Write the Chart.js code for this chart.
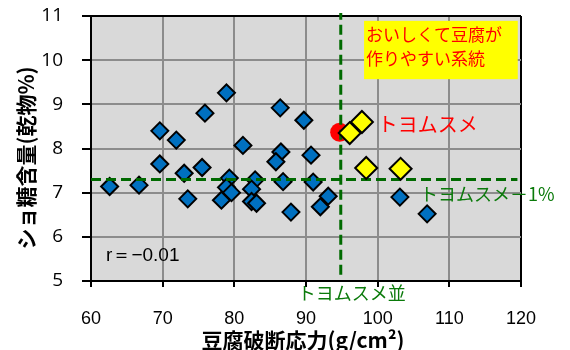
<!DOCTYPE html>
<html>
<head>
<meta charset="utf-8">
<script src="https://cdn.jsdelivr.net/npm/chart.js@4"></script>
<style>
html,body{margin:0;padding:0;background:#fff;}
canvas{display:block;}
</style>
</head>
<body>
<canvas id="c" width="570" height="350"></canvas>
<script>
// ---- data ----
const lineX = [62.6, 66.7, 69.6, 71.9, 69.6, 73.0, 73.5, 75.9, 78.9, 81.2, 75.5,
               79.3, 78.9, 79.6, 78.2, 82.9, 82.4, 82.4, 83.1, 86.8, 87.9, 86.5,
               85.8, 86.4, 89.7, 90.7, 91.0, 93.1, 92.0, 103.1, 106.9];
const lineY = [7.14, 7.17, 8.40, 8.19, 7.65, 7.44, 6.86, 8.80, 9.26, 8.07, 7.57,
               7.33, 7.12, 7.00, 6.83, 7.29, 7.08, 6.80, 6.76, 7.25, 6.56, 7.92,
               7.70, 8.92, 8.64, 7.85, 7.24, 6.92, 6.68, 6.90, 6.52];
const goodX = [96.1, 97.8, 98.4, 103.2];
const goodY = [8.35, 8.60, 7.56, 7.54];
const toyomusumeX = [94.7];
const toyomusumeY = [8.37];
const refX = 94.85;          // トヨムスメ並 (vertical reference)
const refY = 7.30;           // トヨムスメ−1% (horizontal reference)
const xTicks = [60, 70, 80, 90, 100, 110, 120];
const yTicks = [5, 6, 7, 8, 9, 10, 11];
const xTitle = '豆腐破断応力(g/cm²)';
const yTitle = 'ショ糖含量(乾物%)';
const boxText = ['おいしくて豆腐が', '作りやすい系統'];
const rText = 'r＝−0.01';

const pts = (xs, ys) => xs.map((x, i) => ({x: x, y: ys[i]}));

const GRID = '#8c8c8c';
const GREEN = '#006a00';
const JP = '"Noto Sans CJK JP", sans-serif';

const decor = {
  id: 'decor',
  beforeDraw(chart) {
    const a = chart.chartArea, ctx = chart.ctx;
    ctx.save();
    ctx.fillStyle = '#d9d9d9';
    ctx.fillRect(a.left, a.top, a.right - a.left, a.bottom - a.top);
    ctx.restore();
  },
  afterDraw(chart) {
    const ctx = chart.ctx, xs = chart.scales.x, ys = chart.scales.y;
    const a = chart.chartArea;
    ctx.save();
    // yellow note box
    const bx0 = xs.getPixelForValue(98.1), bx1 = xs.getPixelForValue(119.55);
    const by0 = ys.getPixelForValue(10.89), by1 = ys.getPixelForValue(9.57);
    ctx.fillStyle = '#ffff00';
    ctx.fillRect(bx0, by0, bx1 - bx0, by1 - by0);
    ctx.fillStyle = '#ff0000';
    ctx.font = '17px ' + JP;
    ctx.textBaseline = 'middle';
    ctx.textAlign = 'left';
    ctx.fillText(boxText[0], bx0 + 2, by0 + 14);
    ctx.fillText(boxText[1], bx0 + 2, by0 + 38);
    // トヨムスメ label
    ctx.font = '20px ' + JP;
    ctx.fillText('トヨムスメ', xs.getPixelForValue(toyomusumeX[0]) + 38, ys.getPixelForValue(toyomusumeY[0]) - 8);
    // green labels
    ctx.fillStyle = '#0a7a0a';
    ctx.font = '18px ' + JP;
    ctx.fillText('トヨムスメ－1%', xs.getPixelForValue(105.9), ys.getPixelForValue(refY) + 15);
    ctx.fillText('トヨムスメ並', xs.getPixelForValue(refX) - 43, a.bottom + 12);
    // r value
    ctx.fillStyle = '#000';
    ctx.font = '19px "Liberation Sans", Arial, sans-serif';
    ctx.fillText(rText, xs.getPixelForValue(62.1), ys.getPixelForValue(5.57));
    // axis titles
    ctx.font = 'bold 21px ' + JP;
    ctx.textAlign = 'center';
    ctx.fillText(xTitle, 303, 340);
    ctx.translate(26, 158);
    ctx.rotate(-Math.PI / 2);
    ctx.fillText(yTitle, 0, 0);
    ctx.restore();
  }
};

new Chart(document.getElementById('c'), {
  type: 'scatter',
  data: {
    datasets: [
      { data: pts(lineX, lineY), pointStyle: 'rectRot', pointRadius: 8.5,
        backgroundColor: '#0070c0', borderColor: '#000', borderWidth: 2, order: 5 },
      { data: pts(toyomusumeX, toyomusumeY), pointStyle: 'circle', pointRadius: 9.5,
        backgroundColor: '#ff0000', borderColor: '#ff0000', borderWidth: 0, order: 4 },
      { type: 'line', data: [{x: 60, y: refY}, {x: 119.5, y: refY}], showLine: true,
        pointRadius: 0, borderColor: GREEN, borderWidth: 3, borderDash: [10, 5], clip: false, order: 3 },
      { type: 'line', data: [{x: refX, y: 5.14}, {x: refX, y: 11.07}], showLine: true,
        pointRadius: 0, borderColor: GREEN, borderWidth: 3, borderDash: [10, 5], clip: false, order: 3 },
      { data: pts(goodX, goodY), pointStyle: 'rectRot', pointRadius: 11,
        backgroundColor: '#ffff00', borderColor: '#000', borderWidth: 2, order: 1 }
    ]
  },
  options: {
    responsive: false,
    animation: false,
    layout: { autoPadding: false, padding: { top: 16, right: 49, left: 0, bottom: 0 } },
    plugins: { legend: { display: false }, tooltip: { enabled: false } },
    scales: {
      x: {
        type: 'linear', min: 60, max: 120,
        afterBuildTicks: s => { s.ticks = xTicks.map(v => ({value: v})); },
        afterFit: s => { s.height = 69; s.paddingLeft = 0; s.paddingRight = 0; },
        ticks: { color: '#000', padding: 21, font: { family: '"Liberation Sans", Arial, sans-serif', size: 18 } },
        grid: { color: c => (c.tick && c.tick.value === 120 ? '#000' : GRID), lineWidth: 2,
                tickLength: 6, tickColor: '#000', tickWidth: 2 },
        border: { color: '#000', width: 2 }
      },
      y: {
        min: 5, max: 11,
        afterBuildTicks: s => { s.ticks = yTicks.map(v => ({value: v})); },
        afterFit: s => { s.width = 91; s.paddingTop = 0; s.paddingBottom = 0; },
        ticks: { color: '#000', padding: 19, font: { family: '"Open Sans", sans-serif', size: 19 } },
        grid: { color: c => (c.tick && c.tick.value === 11 ? '#000' : GRID), lineWidth: 2,
                tickLength: 9, tickColor: '#000', tickWidth: 2 },
        border: { color: '#000', width: 2 }
      }
    }
  },
  plugins: [decor]
});
</script>
</body>
</html>
